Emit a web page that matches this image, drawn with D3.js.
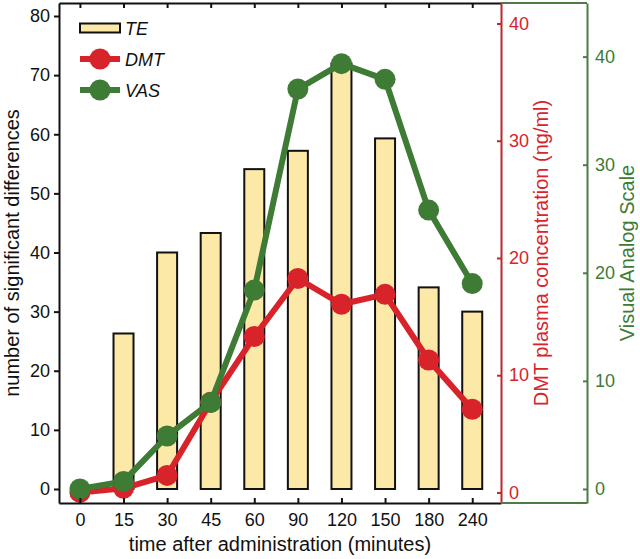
<!DOCTYPE html>
<html>
<head>
<meta charset="utf-8">
<script src="https://cdn.jsdelivr.net/npm/d3@7"></script>
<style>
    body { margin: 0; background: #fff; }
    text { font-family: 'Liberation Sans', Arial, sans-serif; }
</style>
</head>
<body>
<script>

// time points (minutes)
var times = ['0', '15', '30', '45', '60', '90', '120', '150', '180', '240'];
// number of significant differences
var teValues = [0, 26.3, 40.0, 43.3, 54.1, 57.2, 72.0, 59.3, 34.1, 30.0];
// DMT plasma concentration (ng/ml)
var dmtValues = [0, 0.35, 1.45, 7.7, 13.3, 18.25, 16.05, 16.9, 11.3, 7.1];
// visual analog scale
var vasValues = [0, 0.7, 4.9, 8.0, 18.4, 37.0, 39.35, 37.9, 25.8, 19.0];

var leftTicks = [0, 10, 20, 30, 40, 50, 60, 70, 80];
var redTicks = [0, 10, 20, 30, 40];
var greenTicks = [0, 10, 20, 30, 40];

var width = 640,
    height = 559,
    plotLeft = 59,
    plotRight = 501,
    plotRight2 = 587,
    plotTop = 3,
    plotBottom = 503,
    black = '#111111',
    red = '#d8232a',
    redAxis = '#c0272d',
    green = '#3e7b35',
    greenAxis = '#4d7d44',
    barFill = '#fde9a7',
    fontSize = '18px',
    titleSize = '20px';

var svg = d3.select('body')
    .append('svg')
    .attr('width', width)
    .attr('height', height);

var x = d3.scaleLinear()
    .domain([-0.48, 9.66])
    .range([plotLeft, plotRight]);

var y = d3.scaleLinear()
    .domain([-2.37, 82.2])
    .range([plotBottom, plotTop]);

var yRed = d3.scaleLinear()
    .domain([-0.9, 41.75])
    .range([plotBottom, plotTop]);

var yGreen = d3.scaleLinear()
    .domain([-1.3, 44.96])
    .range([plotBottom, plotTop]);

// bars (no bar at time 0)
var barData = teValues.map(function(v, i) { return { i: i, v: v }; })
    .filter(function(d) { return d.v > 0; });

svg.append('g')
    .selectAll('rect')
    .data(barData)
    .enter()
    .append('rect')
    .attr('x', function(d) { return x(d.i) - 10; })
    .attr('y', function(d) { return y(d.v); })
    .attr('width', 20)
    .attr('height', function(d) { return y(0) - y(d.v); })
    .attr('fill', barFill)
    .attr('stroke', black)
    .attr('stroke-width', 2);

// lines (VAS drawn on top)
var series = [
    { values: dmtValues, scale: yRed, color: red },
    { values: vasValues, scale: yGreen, color: green }
];

series.forEach(function(s) {
    var line = d3.line()
        .x(function(d, i) { return x(i); })
        .y(function(d) { return s.scale(d); });

    var g = svg.append('g');

    g.append('path')
        .attr('d', line(s.values))
        .attr('fill', 'none')
        .attr('stroke', s.color)
        .attr('stroke-width', 6)
        .attr('stroke-linejoin', 'round');

    g.selectAll('circle')
        .data(s.values)
        .enter()
        .append('circle')
        .attr('cx', function(d, i) { return x(i); })
        .attr('cy', function(d) { return s.scale(d); })
        .attr('r', 10.5)
        .attr('fill', s.color);
});

// left axis
var leftAxis = svg.append('g')
    .attr('transform', 'translate(' + plotLeft + ',0)')
    .call(d3.axisLeft(y).tickValues(leftTicks).tickSizeInner(5).tickSizeOuter(0).tickPadding(4));

// bottom axis, ticks inward
var xTicks = d3.range(times.length);
var bottomAxis = svg.append('g')
    .attr('transform', 'translate(0,' + plotBottom + ')')
    .call(d3.axisBottom(x).tickValues(xTicks).tickFormat(function(i) { return times[i]; })
        .tickSizeInner(-5).tickSizeOuter(0).tickPadding(10));

// top axis, no labels
var topAxis = svg.append('g')
    .attr('transform', 'translate(0,' + plotTop + ')')
    .call(d3.axisTop(x).tickValues(xTicks).tickFormat('')
        .tickSizeInner(-5).tickSizeOuter(0));

[leftAxis, bottomAxis, topAxis].forEach(function(a) {
    a.select('.domain').attr('stroke', black).attr('stroke-width', 2);
    a.selectAll('.tick line').attr('stroke', black).attr('stroke-width', 2);
    a.selectAll('.tick text').attr('fill', black).style('font-size', fontSize)
        .style('font-family', "'Liberation Sans', Arial, sans-serif");
});

// red axis
var redAxisG = svg.append('g')
    .attr('transform', 'translate(' + plotRight + ',0)')
    .call(d3.axisRight(yRed).tickValues(redTicks).tickSizeInner(-4).tickSizeOuter(0).tickPadding(8));

// green axis
var greenAxisG = svg.append('g')
    .attr('transform', 'translate(' + plotRight2 + ',0)')
    .call(d3.axisRight(yGreen).tickValues(greenTicks).tickSizeInner(-4).tickSizeOuter(0).tickPadding(8));

[[redAxisG, redAxis, red], [greenAxisG, greenAxis, green]].forEach(function(p) {
    p[0].select('.domain').attr('stroke', p[1]).attr('stroke-width', 2);
    p[0].selectAll('.tick line').attr('stroke', p[1]).attr('stroke-width', 2);
    p[0].selectAll('.tick text').attr('fill', p[2]).style('font-size', fontSize)
        .style('font-family', "'Liberation Sans', Arial, sans-serif");
});

// green frame lines top and bottom
svg.append('path')
    .attr('d', 'M' + plotRight + ',' + plotTop + 'H' + plotRight2 +
               'M' + plotRight + ',' + plotBottom + 'H' + plotRight2)
    .attr('stroke', greenAxis)
    .attr('stroke-width', 2)
    .attr('fill', 'none');

// axis titles
svg.append('text')
    .attr('transform', 'translate(19,' + ((plotTop + plotBottom) / 2) + ') rotate(-90)')
    .attr('text-anchor', 'middle')
    .style('font-size', titleSize)
    .attr('fill', black)
    .text('number of significant differences');

svg.append('text')
    .attr('x', (plotLeft + plotRight) / 2)
    .attr('y', 551)
    .attr('text-anchor', 'middle')
    .style('font-size', titleSize)
    .attr('fill', black)
    .text('time after administration (minutes)');

svg.append('text')
    .attr('transform', 'translate(548,253) rotate(-90)')
    .attr('text-anchor', 'middle')
    .style('font-size', titleSize)
    .attr('fill', red)
    .text('DMT plasma concentration (ng/ml)');

svg.append('text')
    .attr('transform', 'translate(634,253) rotate(-90)')
    .attr('text-anchor', 'middle')
    .style('font-size', titleSize)
    .attr('fill', green)
    .text('Visual Analog Scale');

// legend
var legendData = [
    { text: 'TE', type: 'bar' },
    { text: 'DMT', color: red },
    { text: 'VAS', color: green }
];

var legend = svg.append('g')
    .selectAll('g')
    .data(legendData)
    .enter()
    .append('g')
    .attr('transform', function(d, i) { return 'translate(80,' + (28 + i * 31) + ')'; });

legend.each(function(d) {
    var g = d3.select(this);
    if (d.type === 'bar') {
        g.append('rect')
            .attr('x', 0).attr('y', -4.5)
            .attr('width', 40).attr('height', 9)
            .attr('fill', barFill)
            .attr('stroke', black)
            .attr('stroke-width', 2);
    } else {
        g.append('path')
            .attr('d', 'M0,0H40')
            .attr('stroke', d.color)
            .attr('stroke-width', 6);
        g.append('circle')
            .attr('cx', 20).attr('r', 10.5)
            .attr('fill', d.color);
    }
    g.append('text')
        .attr('x', 45)
        .attr('y', 6.5)
        .style('font-size', fontSize)
        .style('font-style', 'italic')
        .attr('fill', black)
        .text(d.text);
});

</script>
</body>
</html>
